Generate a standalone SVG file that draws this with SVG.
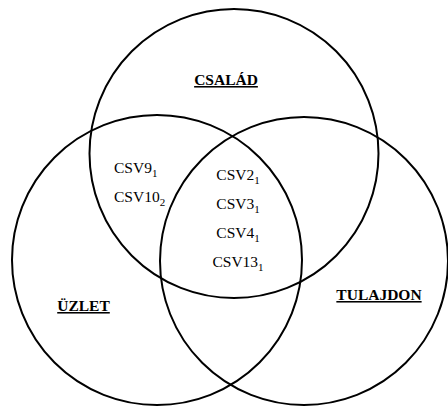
<svg xmlns="http://www.w3.org/2000/svg" width="448" height="407" viewBox="0 0 448 407">
<style>
.c{fill:none;stroke:#000;stroke-width:2}
.t{font-family:"Liberation Serif","Times New Roman",serif;font-size:15.5px;fill:#000}
.h{font-family:"Liberation Serif","Times New Roman",serif;font-size:15.5px;font-weight:bold;fill:#000;text-decoration:underline;text-anchor:middle}
.s{font-size:11px}
</style>
<rect width="448" height="407" fill="#fff"/>
<g id="csalad"><circle class="c" cx="234" cy="153.5" r="144.5"/><text class="h" x="226" y="85">CSALÁD</text></g>
<g id="uzlet"><circle class="c" cx="157" cy="260" r="145"/><text class="h" x="83.5" y="311">ÜZLET</text></g>
<g id="tulajdon"><circle class="c" cx="304" cy="261" r="144"/><text class="h" x="379" y="300">TULAJDON</text></g>
<g id="csalad-uzlet">
<text class="t" x="114" y="173">CSV9<tspan class="s" dy="3.5">1</tspan></text>
<text class="t" x="114" y="202">CSV10<tspan class="s" dy="3.5">2</tspan></text>
</g>
<g id="kozos" text-anchor="middle">
<text class="t" x="238" y="180">CSV2<tspan class="s" dy="3.5">1</tspan></text>
<text class="t" x="238" y="209">CSV3<tspan class="s" dy="3.5">1</tspan></text>
<text class="t" x="238" y="238">CSV4<tspan class="s" dy="3.5">1</tspan></text>
<text class="t" x="238" y="267">CSV13<tspan class="s" dy="3.5">1</tspan></text>
</g>
<g id="connectors"/>
</svg>
